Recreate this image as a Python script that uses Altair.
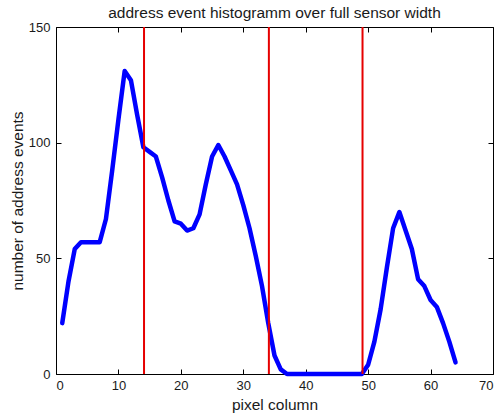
import altair as alt
import pandas as pd

# ---- data ----
pixel_column = list(range(1, 65))
event_counts = [22, 40, 54, 57, 57, 57, 57, 67, 88, 110,
                131, 127, 112, 98, 96, 94, 85, 75, 66, 65,
                62, 63, 69, 82, 94, 99, 94, 88, 82, 73,
                63, 51, 38, 22, 8, 2, 0, 0, 0, 0,
                0, 0, 0, 0, 0, 0, 0, 0, 0, 4,
                14, 28, 46, 63, 70, 62, 54, 41, 38, 32,
                29, 22, 14, 5]
boundaries = [14.1, 34.1, 49.1]
x_ticks = [0, 10, 20, 30, 40, 50, 60, 70]
y_ticks = [0, 50, 100, 150]

df = pd.DataFrame({"col": pixel_column, "count": event_counts})
bdf = pd.DataFrame({"b": boundaries})

FONT = "Liberation Sans"
TXT = "#1a1a1a"
xs = alt.Scale(domain=[0, 70], nice=False, zero=False)
ys = alt.Scale(domain=[0, 150], nice=False)
tick_in = {"expr": "-5"}

common = dict(grid=False, domain=False, tickSize=tick_in, tickColor="#000000",
              tickWidth=1, labelFont=FONT, labelFontSize=13, labelColor=TXT,
              titleFont=FONT, titleFontSize=15.5, titleColor=TXT,
              titleFontWeight="normal")

line = alt.Chart(df).mark_line(
    color="#0000ff", strokeWidth=4.5, strokeJoin="round", strokeCap="round"
).encode(
    x=alt.X("col:Q", scale=xs,
            axis=alt.Axis(values=x_ticks, orient="bottom", title="pixel column",
                          labelPadding=10, titlePadding=5, **common)),
    y=alt.Y("count:Q", scale=ys,
            axis=alt.Axis(values=y_ticks, orient="left",
                          title="number of address events",
                          labelPadding=11, titlePadding=3, **common)),
)

ghost = alt.Chart(df).mark_line(opacity=0).encode(
    x=alt.X("col:Q", scale=xs,
            axis=alt.Axis(values=x_ticks, orient="top", labels=False, title=None,
                          grid=False, domain=False, tickSize=tick_in,
                          tickColor="#000000", minExtent=0, maxExtent=0)),
    y=alt.Y("count:Q", scale=ys,
            axis=alt.Axis(values=y_ticks, orient="right", labels=False, title=None,
                          grid=False, domain=False, tickSize=tick_in,
                          tickColor="#000000", minExtent=0, maxExtent=0)),
)

rules = alt.Chart(bdf).mark_rule(color="#e60000", strokeWidth=2).encode(
    x=alt.X("b:Q", scale=xs, axis=None)
)

chart = alt.layer(line, ghost, rules).resolve_axis(
    x="independent", y="independent"
).properties(
    width=437,
    height=347,
    autosize="none",
    padding={"left": 56, "top": 27, "right": 7, "bottom": 42},
    background="white",
    title=alt.Title("address event histogramm over full sensor width",
                    font=FONT, fontSize=15.5, fontWeight="normal", color=TXT,
                    baseline="alphabetic", offset=-12, anchor="middle"),
).configure_view(stroke="#000000", strokeWidth=1)

chart.save("out.html", embed_options={"renderer": "svg", "actions": False})
